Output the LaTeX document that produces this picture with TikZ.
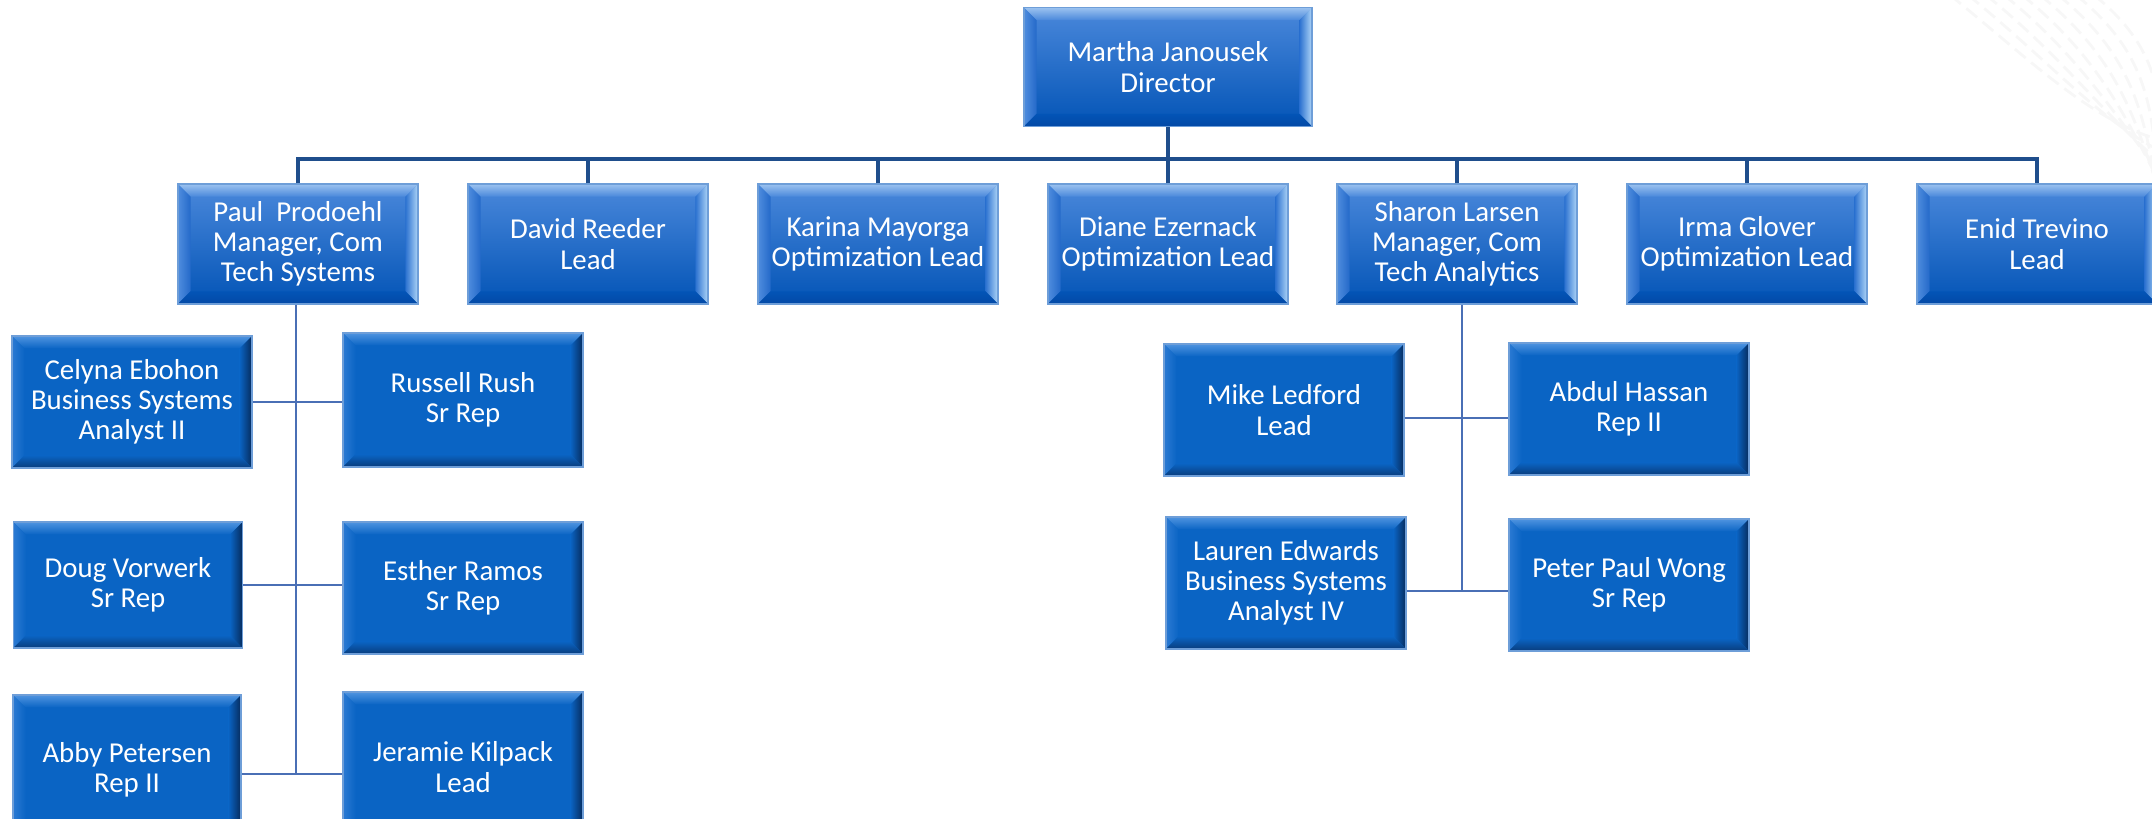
\documentclass[tikz,border=0pt]{standalone}
\usepackage{fontspec}
\setmainfont{Carlito}
\usepackage{xcolor}
\usetikzlibrary{positioning}

\definecolor{boxblue}{HTML}{0A64C4}
\definecolor{roletop}{HTML}{4A88DB}
\definecolor{rolebot}{HTML}{0354B6}
\definecolor{boxedge}{HTML}{6E9ED8}
\definecolor{busnavy}{HTML}{1F4E8C}
\definecolor{teamblue}{HTML}{4A6FB5}

\def\bevw{3.6pt}
\tikzset{
  bevel/.style n args={8}{path picture={
      \path (path picture bounding box.north west) coordinate (bnw)
            (path picture bounding box.north east) coordinate (bne)
            (path picture bounding box.south west) coordinate (bsw)
            (path picture bounding box.south east) coordinate (bse);
      \shade[top color=#1,bottom color=#2] (bnw) -- (bne) -- ([shift={(-\bevw,-\bevw)}]bne) -- ([shift={(\bevw,-\bevw)}]bnw) -- cycle;
      \shade[left color=#3,right color=#4] (bnw) -- ([shift={(\bevw,-\bevw)}]bnw) -- ([shift={(\bevw,\bevw)}]bsw) -- (bsw) -- cycle;
      \shade[left color=#6,right color=#5] (bne) -- ([shift={(-\bevw,-\bevw)}]bne) -- ([shift={(-\bevw,\bevw)}]bse) -- (bse) -- cycle;
      \shade[top color=#8,bottom color=#7] (bsw) -- ([shift={(\bevw,\bevw)}]bsw) -- ([shift={(-\bevw,\bevw)}]bse) -- (bse) -- cycle;
  }},
  boxtext/.style={font=\fontsize{8.2pt}{8.6pt}\selectfont, text=white, align=center, inner sep=0pt},
  rolebox/.style={boxtext, rectangle, draw=boxedge, line width=0.4pt,
      top color=roletop, bottom color=rolebot, minimum width=2.4cm, minimum height=1.2cm,
      bevel={HTML9CC3F0}{roletop}{HTML4F8DDE}{HTML2469C9}{HTMLB0D6F8}{HTML2C72D0}{HTML0349A6}{rolebot}},
  staffbox/.style={boxtext, rectangle, draw=boxedge, line width=0.4pt,
      fill=boxblue, minimum width=2.4cm, minimum height=1.32cm,
      bevel={HTML4F94E0}{boxblue}{HTML2B7AD3}{boxblue}{HTML062B5C}{boxblue}{HTML093C7C}{boxblue}},
  busline/.style={draw=busnavy, line width=0.9pt},
  stemline/.style={draw=busnavy, line width=1.2pt},
  teamline/.style={draw=teamblue, line width=0.6pt},
  streak/.style={draw=black!3, line width=0.8pt, dash pattern=on 4pt off 2pt},
}
\definecolor{HTML9CC3F0}{HTML}{9CC3F0}
\definecolor{HTML4F8DDE}{HTML}{4F8DDE}
\definecolor{HTML2469C9}{HTML}{2469C9}
\definecolor{HTMLB0D6F8}{HTML}{B0D6F8}
\definecolor{HTML2C72D0}{HTML}{2C72D0}
\definecolor{HTML0349A6}{HTML}{0349A6}
\definecolor{HTML4F94E0}{HTML}{4F94E0}
\definecolor{HTML2B7AD3}{HTML}{2B7AD3}
\definecolor{HTML062B5C}{HTML}{062B5C}
\definecolor{HTML093C7C}{HTML}{093C7C}

\begin{document}
\begin{tikzpicture}[x=0.01cm,y=-0.01cm]
	\useasboundingbox (0,0) rectangle (2152,819);

	% faint streaks, top right
	\foreach \s in {0,18,...,160}
		\draw[streak] (1950+\s,-5) .. controls (2030+\s,60) and (2090+\s*0.5,120) .. (2160,140+\s*0.6);

	% director and first row
	\node[rolebox, minimum width=2.88cm, minimum height=1.19cm] (director) at (1168,67) {Martha Janousek\\Director};
	\node[rolebox] (paul) at (298,244) {Paul\ \ Prodoehl\\Manager, Com\\Tech Systems};
	\node[rolebox] (david) at (588,244) {David Reeder\\Lead};
	\node[rolebox] (karina) at (878,244) {Karina Mayorga\\Optimization Lead};
	\node[rolebox] (diane) at (1168,244) {Diane Ezernack\\Optimization Lead};
	\node[rolebox] (sharon) at (1457,244) {Sharon Larsen\\Manager, Com\\Tech Analytics};
	\node[rolebox] (irma) at (1747,244) {Irma Glover\\Optimization Lead};
	\node[rolebox] (enid) at (2037,244) {Enid Trevino\\Lead};

	% Paul's team
	\node[staffbox] (celyna) at (132,402) {Celyna Ebohon\\Business Systems\\Analyst II};
	\node[staffbox, minimum height=1.34cm] (russell) at (463,400) {Russell Rush\\Sr Rep};
	\node[staffbox, minimum width=2.29cm, minimum height=1.26cm] (doug) at (128,585) {Doug Vorwerk\\Sr Rep};
	\node[staffbox] (esther) at (463,588) {Esther Ramos\\Sr Rep};
	\node[staffbox, minimum width=2.28cm, minimum height=1.5cm] (abby) at (127,770) {Abby Petersen\\Rep II};
	\node[staffbox, minimum height=1.5cm] (jeramie) at (463,767) {Jeramie Kilpack\\Lead};

	% Sharon's team
	\node[staffbox] (mike) at (1284,410) {Mike Ledford\\Lead};
	\node[staffbox] (abdul) at (1629,409) {Abdul Hassan\\Rep II};
	\node[staffbox] (lauren) at (1286,583) {Lauren Edwards\\Business Systems\\Analyst IV};
	\node[staffbox] (peter) at (1629,585) {Peter Paul Wong\\Sr Rep};

	\coordinate (busy) at (0,159);
	\coordinate (pmid1) at (296,402);
	\coordinate (pmid2) at (296,585);
	\coordinate (pend) at (296,774);
	\coordinate (smid) at (1462,418);
	\coordinate (send) at (1462,591);

	% connectors
	\draw[stemline] (director.south) -- (director.south |- busy);
	\draw[busline] (paul.north) -- (paul.north |- busy) -- (enid.north |- busy) -- (enid.north);
	\foreach \n in {david,karina,diane,sharon,irma}
		\draw[busline] (\n.north) -- (\n.north |- busy);

	\draw[teamline] (paul.south -| pend) -- (pend);
	\draw[teamline] (celyna.east |- pmid1) -- (russell.west |- pmid1);
	\draw[teamline] (doug.east |- pmid2) -- (esther.west |- pmid2);
	\draw[teamline] (abby.east |- pend) -- (jeramie.west |- pend);

	\draw[teamline] (sharon.south -| send) -- (send);
	\draw[teamline] (mike.east |- smid) -- (abdul.west |- smid);
	\draw[teamline] (lauren.east |- send) -- (peter.west |- send);
\end{tikzpicture}
\end{document}
